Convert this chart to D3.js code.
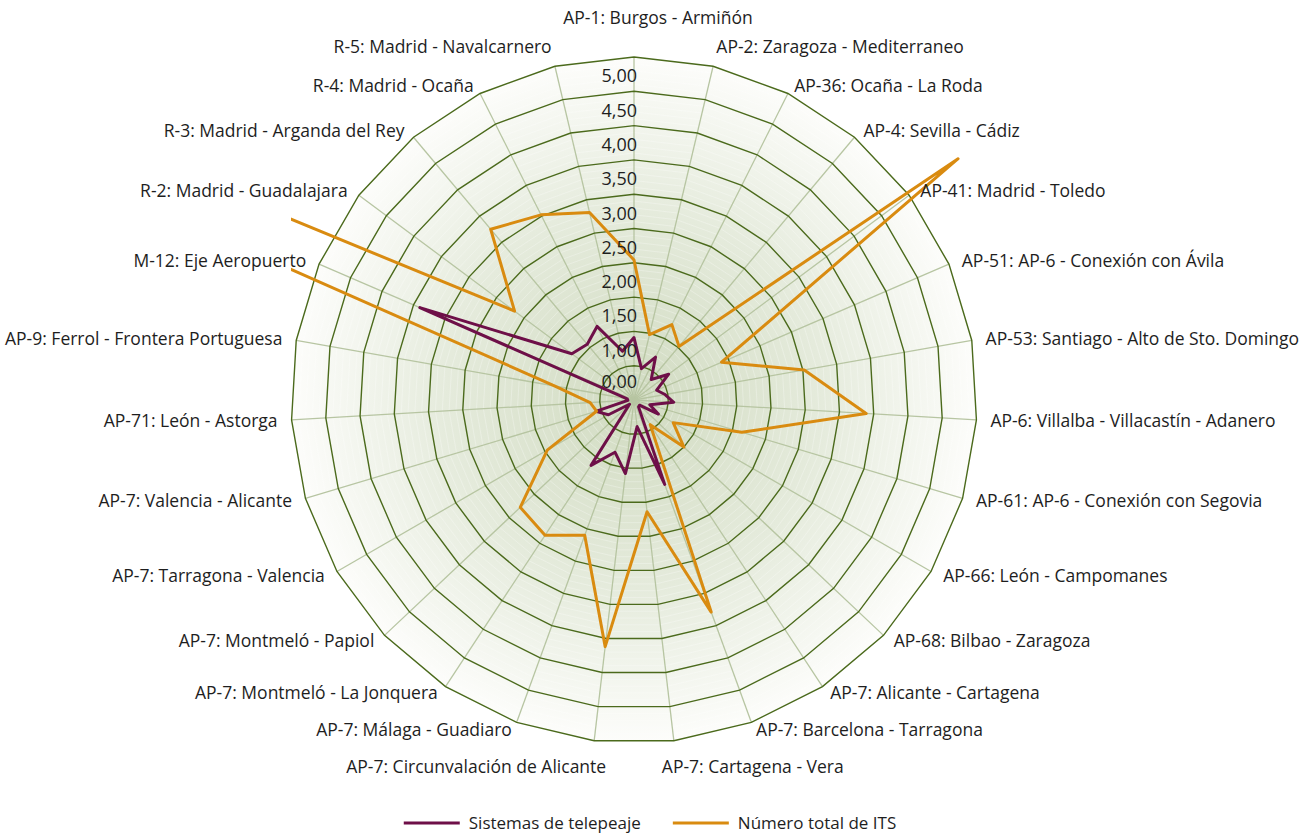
<!DOCTYPE html>
<html>
<head>
<meta charset="utf-8">
<script src="https://cdn.jsdelivr.net/npm/d3@7"></script>
<style>
  body { margin: 0; background: #fff; }
  svg text { font-family: 'Open Sans', sans-serif; fill: #1e1e1e; }
</style>
</head>
<body>
<div id="chart"></div>
<script>
// tramos de autopista
var categories = [
  'AP-1: Burgos - Armiñón',
  'AP-2: Zaragoza - Mediterraneo',
  'AP-36: Ocaña - La Roda',
  'AP-4: Sevilla - Cádiz',
  'AP-41: Madrid - Toledo',
  'AP-51: AP-6 - Conexión con Ávila',
  'AP-53: Santiago - Alto de Sto. Domingo',
  'AP-6: Villalba - Villacastín - Adanero',
  'AP-61: AP-6 - Conexión con Segovia',
  'AP-66: León - Campomanes',
  'AP-68: Bilbao - Zaragoza',
  'AP-7: Alicante - Cartagena',
  'AP-7: Barcelona - Tarragona',
  'AP-7: Cartagena - Vera',
  'AP-7: Circunvalación de Alicante',
  'AP-7: Málaga - Guadiaro',
  'AP-7: Montmeló - La Jonquera',
  'AP-7: Montmeló - Papiol',
  'AP-7: Tarragona - Valencia',
  'AP-7: Valencia - Alicante',
  'AP-71: León - Astorga',
  'AP-9: Ferrol - Frontera Portuguesa',
  'M-12: Eje Aeropuerto',
  'R-2: Madrid - Guadalajara',
  'R-3: Madrid - Arganda del Rey',
  'R-4: Madrid - Ocaña',
  'R-5: Madrid - Navalcarnero'
];

var telepeaje = [0.91, 0.47, 0.70, 0.39, 0.63, 0.36, 0.46, 0.58, 0.24, 0.41,
                 0.11, 0.12, 1.31, 0.39, 1.08, 0.81, 1.14, 0.09, 0.43, 0.58,
                 0.09, 0.10, 3.40, 1.13, 1.06, 1.20, 0.73];

var totalITS = [2.04, 0.98, 1.23, 1.02, 5.89, 1.39, 2.52, 3.39, 1.64, 0.66,
                1.00, 0.43, 3.29, 1.64, 3.62, 2.10, 2.36, 2.28, 1.46, 0.57,
                0.64, 1.17, 31.0, 2.17, 3.25, 3.02, 2.81];

var tickValues = [0, 1, 1.5, 2, 2.5, 3, 3.5, 4, 4.5, 5];
var tickLabels = ['0,00', '1,00', '1,50', '2,00', '2,50', '3,00', '3,50', '4,00', '4,50', '5,00'];

var seriesNames = ['Sistemas de telepeaje', 'Número total de ITS'];
var seriesColors = ['#6e0f48', '#d98b10'];

var w = 1306, h = 834;
var cx = 634, cy = 400, R = 343;
var n = categories.length;

var r = d3.scaleLinear().domain([0, 5]).range([0, R]);

function ang(i) { return i * 2 * Math.PI / n; }
function pt(i, v) {
  var a = ang(i);
  return [cx + r(v) * Math.sin(a), cy - r(v) * Math.cos(a)];
}

var svg = d3.select('#chart').append('svg')
  .attr('width', w)
  .attr('height', h);

var defs = svg.append('defs');

var grad = defs.append('radialGradient')
  .attr('id', 'bg')
  .attr('gradientUnits', 'userSpaceOnUse')
  .attr('cx', cx).attr('cy', cy).attr('r', R);
grad.append('stop').attr('offset', '0%').attr('stop-color', '#d1dbc1');
grad.append('stop').attr('offset', '55%').attr('stop-color', '#e5ebdc');
grad.append('stop').attr('offset', '100%').attr('stop-color', '#fdfdfb');

defs.append('clipPath').attr('id', 'plotClip')
  .append('rect')
  .attr('x', cx - R).attr('y', cy - R)
  .attr('width', 2 * R).attr('height', 2 * R);

var ring = d3.line().curve(d3.curveLinearClosed);
function ringPath(v) {
  return ring(d3.range(n).map(function (i) { return pt(i, v); }));
}

/* fondo */
svg.append('path')
  .attr('d', ringPath(5))
  .attr('fill', 'url(#bg)');

/* anillos menores */
var minor = d3.range(1, 50).filter(function (k) { return k % 5 !== 0; })
  .map(function (k) { return k / 10; });
svg.append('g').selectAll('path')
  .data(minor)
  .enter()
  .append('path')
  .attr('d', ringPath)
  .attr('fill', 'none')
  .attr('stroke', '#ffffff')
  .attr('stroke-opacity', 0.35)
  .attr('stroke-width', 0.8);

/* radios */
svg.append('g').selectAll('line')
  .data(d3.range(n))
  .enter()
  .append('line')
  .attr('x1', cx).attr('y1', cy)
  .attr('x2', function (i) { return pt(i, 5)[0]; })
  .attr('y2', function (i) { return pt(i, 5)[1]; })
  .attr('stroke', '#b7c5a2')
  .attr('stroke-width', 1.3);

/* anillos principales */
svg.append('g').selectAll('path')
  .data(d3.range(0.5, 5.01, 0.5))
  .enter()
  .append('path')
  .attr('d', ringPath)
  .attr('fill', 'none')
  .attr('stroke', '#4b6a1c')
  .attr('stroke-width', 1.4);

/* series */
var lineGen = d3.line().curve(d3.curveLinearClosed);
var plot = svg.append('g').attr('clip-path', 'url(#plotClip)');
[telepeaje, totalITS].forEach(function (vals, s) {
  plot.append('path')
    .attr('d', lineGen(vals.map(function (v, i) { return pt(i, v); })))
    .attr('fill', 'none')
    .attr('stroke', seriesColors[s])
    .attr('stroke-width', 3)
    .attr('stroke-linejoin', 'round');
});

/* etiquetas del eje */
svg.append('g').selectAll('text')
  .data(tickValues)
  .enter()
  .append('text')
  .text(function (d, i) { return tickLabels[i]; })
  .attr('x', cx + 3)
  .attr('y', function (d) { return d === 0 ? cy - 18 : cy - r(d) + 19; })
  .attr('dy', '0.35em')
  .attr('text-anchor', 'end')
  .attr('font-size', '18px');

/* etiquetas de categorias */
svg.append('g').selectAll('text')
  .data(categories)
  .enter()
  .append('text')
  .text(function (d) { return d; })
  .each(function (d, i) {
    var a = ang(i), s = Math.sin(a), c = Math.cos(a);
    var p = pt(i, 5);
    var anchor = Math.abs(s) < 0.01 ? 'middle' : (s > 0 ? 'start' : 'end');
    var dx = anchor === 'middle' ? 24 : s * 14;
    var extra = Math.abs(c) > 0.999 ? 31 : Math.abs(c) > 0.99 ? 18 : Math.abs(c) > 0.95 ? 12 : 0;
    if (Math.abs(c) > 0.99 && anchor !== 'middle') dx = -Math.sign(s) * 12;
    var dy = -c * 8 - Math.sign(c) * extra;
    d3.select(this)
      .attr('x', p[0] + dx)
      .attr('y', p[1] + dy)
      .attr('dy', '0.35em')
      .attr('text-anchor', anchor)
      .attr('font-size', '17.5px');
  });

/* leyenda */
var legend = svg.append('g');
var lx = 0;
seriesNames.forEach(function (name, s) {
  var g = legend.append('g').attr('transform', 'translate(' + lx + ',0)');
  g.append('line')
    .attr('x1', 0).attr('x2', 56)
    .attr('y1', 0).attr('y2', 0)
    .attr('stroke', seriesColors[s])
    .attr('stroke-width', 3);
  var t = g.append('text')
    .text(name)
    .attr('x', 65)
    .attr('dy', '0.35em')
    .attr('font-size', '17px');
  lx += 65 + t.node().getComputedTextLength() + 32;
});
lx -= 32;
legend.attr('transform', 'translate(' + (650 - lx / 2) + ',823)');
</script>
</body>
</html>
